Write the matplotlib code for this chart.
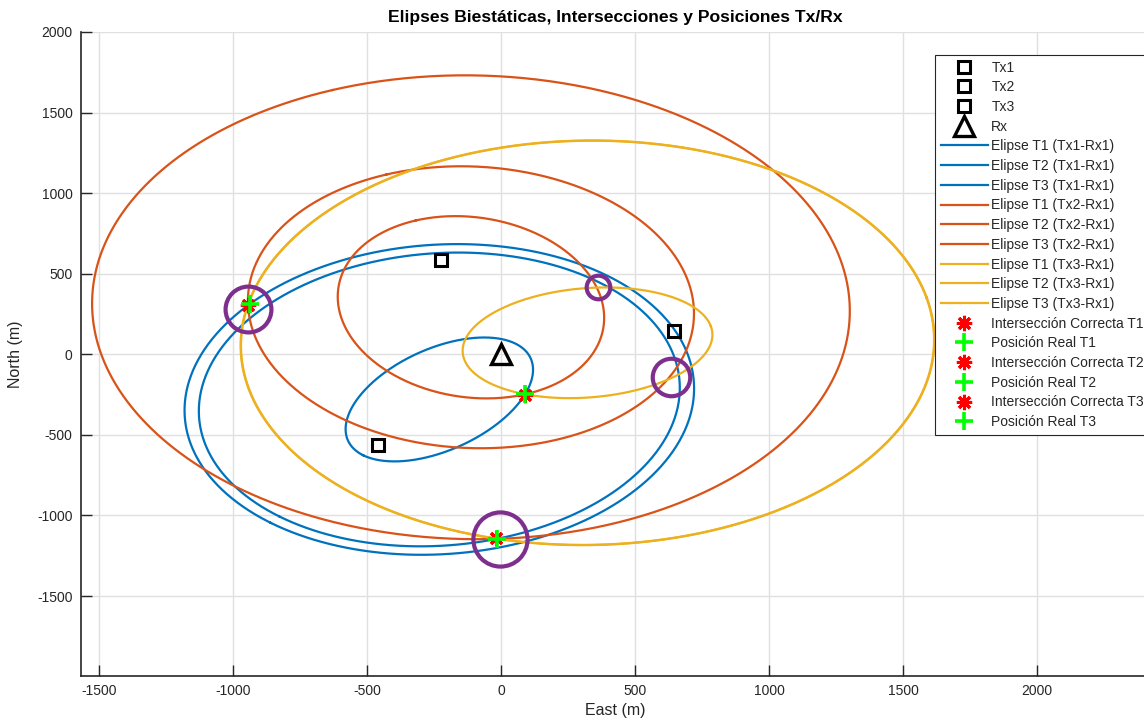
import numpy as np
import matplotlib
matplotlib.use("Agg")
import matplotlib.pyplot as plt

plt.rcParams['font.family'] = ['Liberation Sans', 'DejaVu Sans']
plt.rcParams['axes.unicode_minus'] = False

# ---------------- data ----------------
tx_names = ["Tx1", "Tx2", "Tx3"]
tx_east = [-460, -224, 646]
tx_north = [-560, 584, 143]
rx_east = [0]
rx_north = [0]

target_names = ["T1", "T2", "T3"]
# bistatic range sums (m): per transmitter, for targets T1, T2, T3
range_sum_tx1 = [1982, 896, 1880]
range_sum_tx2 = [1764, 1153, 2887]
range_sum_tx3 = [2590, 943, 2593]

inter_east = [-944, 88, -19]
inter_north = [304, -250, -1142]
real_east = [-937, 90, -15]
real_north = [314, -248, -1146]

cand_east = [-944, -4, 362, 634]
cand_north = [280, -1143, 416, -143]

# ---------------- style ----------------
colors = ["#0072BD", "#D95319", "#EDB120"]
purple = "#7E2F8E"
cand_sizes = [33, 39, 17, 27]
dark = (0.15, 0.15, 0.15)

fig = plt.figure(figsize=(11.44, 7.27), dpi=100)
ax = fig.add_axes([81/1144, 1-676/727, 1068/1144, (676-32)/727])

handles = []
for i, name in enumerate(tx_names):
    h = ax.plot(tx_east[i], tx_north[i], 's', ms=8, mfc='none', mec='k', mew=2.2,
                linestyle='none', label=name, zorder=5)[0]
    handles.append(h)
h = ax.plot(rx_east, rx_north, '^', ms=15, mfc='none', mec='k', mew=2.4,
            linestyle='none', label='Rx', zorder=5)[0]
handles.append(h)

sums = [range_sum_tx1, range_sum_tx2, range_sum_tx3]
t = np.linspace(0, 2*np.pi, 721)
for i in range(3):
    f1 = np.array([rx_east[0], rx_north[0]], float)
    f2 = np.array([tx_east[i], tx_north[i]], float)
    cen = (f1 + f2) / 2
    d = f2 - f1
    c = np.hypot(*d) / 2
    u = d / (2*c)
    v = np.array([-u[1], u[0]])
    for j, tn in enumerate(target_names):
        a = sums[i][j] / 2
        b = np.sqrt(a*a - c*c)
        x = cen[0] + a*np.cos(t)*u[0] + b*np.sin(t)*v[0]
        y = cen[1] + a*np.cos(t)*u[1] + b*np.sin(t)*v[1]
        h = ax.plot(x, y, '-', color=colors[i], lw=1.6,
                    label=f"Elipse {tn} ({tx_names[i]}-Rx1)", zorder=3)[0]
        handles.append(h)

for k in range(4):
    ax.plot(cand_east[k], cand_north[k], 'o', ms=cand_sizes[k], mfc='none',
            mec=purple, mew=3, zorder=4)

for j, tn in enumerate(target_names):
    h1 = ax.plot(inter_east[j], inter_north[j], marker=(8, 2, 0), ms=11, color='red',
                 mew=2.2, linestyle='none', label=f"Intersección Correcta {tn}", zorder=6)[0]
    h2 = ax.plot(real_east[j], real_north[j], '+', ms=13, color='#00FF00',
                 mew=2.6, linestyle='none', label=f"Posición Real {tn}", zorder=7)[0]
    handles += [h1, h2]

ax.set_xlim(-1567, 2418)
ax.set_ylim(-1996, 2000)
ax.set_xticks([-1500, -1000, -500, 0, 500, 1000, 1500, 2000])
ax.set_yticks([-1500, -1000, -500, 0, 500, 1000, 1500, 2000])
ax.grid(True, color=(0.88, 0.88, 0.88), lw=1)
ax.set_axisbelow(True)
for s in ['top', 'right']:
    ax.spines[s].set_visible(False)
for s in ['left', 'bottom']:
    ax.spines[s].set_color(dark)
    ax.spines[s].set_linewidth(1.2)
ax.tick_params(direction='in', length=8, width=1, colors=dark, labelsize=10,
               labelcolor=dark, pad=6)

ax.set_xlabel("East (m)", fontsize=11.5, color=dark, labelpad=3)
ax.set_ylabel("North (m)", fontsize=11.5, color=dark, labelpad=10)
ax.set_title("Elipses Biestáticas, Intersecciones y Posiciones Tx/Rx",
             fontsize=12.6, fontweight='bold', pad=7)

leg = fig.legend(handles=handles, loc='upper left',
                 bbox_to_anchor=(935/1144, 1-55/727), fontsize=10,
                 labelspacing=0.41, handlelength=3.4, handletextpad=0.25,
                 borderpad=0.4, frameon=True, fancybox=False, framealpha=1,
                 edgecolor=dark, borderaxespad=0)
leg.get_frame().set_linewidth(0.8)
for txt in leg.get_texts():
    txt.set_color(dark)

fig.savefig("out.png", dpi=100)
